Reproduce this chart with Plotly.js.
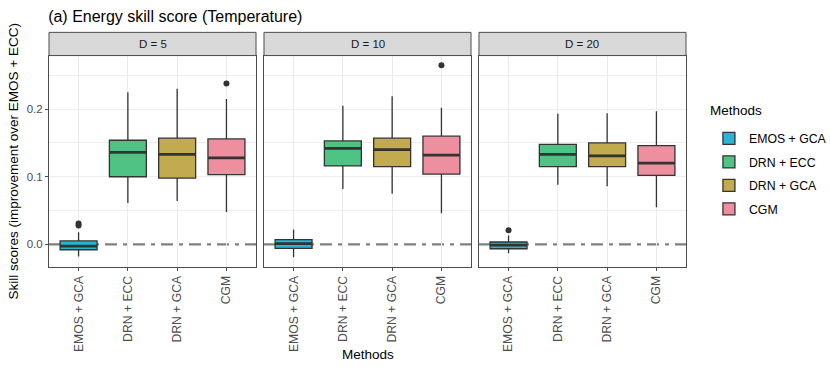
<!DOCTYPE html>
<html>
<head>
<meta charset="utf-8">
<script src="https://cdn.plot.ly/plotly-3.0.1.min.js"></script>
<style>
  html, body { margin: 0; padding: 0; background: #fff; }
  #chart { width: 830px; height: 374px; }
</style>
</head>
<body>
<div id="chart"></div>
<script>
// facets and methods
const panels = ['D = 5', 'D = 10', 'D = 20'];
const methods = ['EMOS + GCA', 'DRN + ECC', 'DRN + GCA', 'CGM'];
const fills = ['#27b5d6', '#4ec383', '#c2aa4e', '#ee8fa0'];

// box stats per method, one value per panel (D = 5, 10, 20)
const lowerFence = {
    'EMOS + GCA': [-0.018, -0.019, -0.013],
    'DRN + ECC':  [0.061, 0.082, 0.088],
    'DRN + GCA':  [0.064, 0.075, 0.086],
    'CGM':        [0.048, 0.046, 0.055]
};
const q1 = {
    'EMOS + GCA': [-0.008, -0.006, -0.0065],
    'DRN + ECC':  [0.100, 0.116, 0.115],
    'DRN + GCA':  [0.098, 0.115, 0.115],
    'CGM':        [0.103, 0.104, 0.102]
};
const median = {
    'EMOS + GCA': [-0.0025, 0.001, -0.001],
    'DRN + ECC':  [0.136, 0.142, 0.133],
    'DRN + GCA':  [0.133, 0.140, 0.131],
    'CGM':        [0.128, 0.132, 0.120]
};
const q3 = {
    'EMOS + GCA': [0.005, 0.007, 0.0035],
    'DRN + ECC':  [0.154, 0.153, 0.148],
    'DRN + GCA':  [0.157, 0.157, 0.150],
    'CGM':        [0.156, 0.160, 0.146]
};
const upperFence = {
    'EMOS + GCA': [0.018, 0.022, 0.013],
    'DRN + ECC':  [0.225, 0.205, 0.193],
    'DRN + GCA':  [0.230, 0.219, 0.194],
    'CGM':        [0.215, 0.202, 0.197]
};

// outliers: panel index, method, value
const outPanel  = [0, 0, 0, 1, 2];
const outMethod = ['EMOS + GCA', 'EMOS + GCA', 'CGM', 'CGM', 'EMOS + GCA'];
const outValue  = [0.031, 0.028, 0.238, 0.265, 0.021];

const font = 'Liberation Sans, Arial, Helvetica, sans-serif';
const axisSuffix = ['', '2', '3'];
const domains = [[0, 0.325], [0.3375, 0.6625], [0.675, 1]];

const traces = [];
panels.forEach((p, i) => {
    const xa = 'x' + axisSuffix[i];
    const ya = 'y' + axisSuffix[i];
    methods.forEach((m, j) => {
        traces.push({
            type: 'box', x: [m],
            q1: [q1[m][i]], median: [median[m][i]], q3: [q3[m][i]],
            lowerfence: [lowerFence[m][i]], upperfence: [upperFence[m][i]],
            width: 0.75, whiskerwidth: 0,
            fillcolor: fills[j], line: { color: '#333333', width: 1.3 },
            name: m, legendgroup: m, showlegend: i === 0,
            xaxis: xa, yaxis: ya, hoverinfo: 'skip'
        });
    });
    // thicker median bars, as in ggplot
    traces.push({
        type: 'scatter', mode: 'markers', x: methods,
        y: methods.map(m => median[m][i]),
        marker: { symbol: 'line-ew', size: 26.3, line: { color: '#333333', width: 2.8 } },
        showlegend: false, xaxis: xa, yaxis: ya, hoverinfo: 'skip'
    });
    const idx = outPanel.map((v, k) => v === i ? k : -1).filter(k => k >= 0);
    traces.push({
        type: 'scatter', mode: 'markers',
        x: idx.map(k => outMethod[k]), y: idx.map(k => outValue[k]),
        marker: { color: '#333333', size: 6 },
        showlegend: false, xaxis: xa, yaxis: ya, hoverinfo: 'skip'
    });
});

const layout = {
    width: 830, height: 374,
    margin: { l: 49, r: 144, t: 56, b: 107, autoexpand: false },
    paper_bgcolor: '#ffffff', plot_bgcolor: '#ffffff',
    font: { family: font, color: '#1a1a1a' },
    title: {
        text: '(a) Energy skill score (Temperature)',
        x: 0.058, xanchor: 'left', y: 0.957, yanchor: 'middle',
        font: { size: 16, color: '#000000', family: font }
    },
    legend: {
        x: 1.036, xanchor: 'left', y: 0.678, yanchor: 'top',
        font: { size: 12.3, color: '#000000' },
        tracegroupgap: 4.5, traceorder: 'grouped'
    },
    shapes: [], annotations: []
};

panels.forEach((p, i) => {
    const s = axisSuffix[i];
    layout['xaxis' + s] = {
        domain: domains[i], anchor: 'y' + s,
        type: 'category', categoryorder: 'array', categoryarray: methods,
        range: [-0.6, 3.6], fixedrange: true,
        showgrid: true, gridcolor: '#ebebeb', gridwidth: 1,
        showline: true, mirror: true, linecolor: '#4d4d4d', linewidth: 1,
        ticks: 'outside', ticklen: 3, tickcolor: '#4d4d4d',
        tickangle: -90, tickfont: { size: 12.2, color: '#4d4d4d' }
    };
    // grid drawn via minor ticks so no grid line sits on top of the zero line
    layout['yaxis' + s] = {
        anchor: 'x' + s, range: [-0.0335, 0.2786],
        matches: i === 0 ? undefined : 'y',
        tickvals: [0, 0.1, 0.2], ticktext: ['0.0', '0.1', '0.2'],
        showticklabels: i === 0,
        zeroline: false, showgrid: false,
        minor: { tickvals: [-0.05, 0.05, 0.1, 0.15, 0.2, 0.25], showgrid: true, gridcolor: '#ececec', gridwidth: 0.9 },
        showline: true, mirror: true, linecolor: '#4d4d4d', linewidth: 1,
        ticks: i === 0 ? 'outside' : '', ticklen: 3, tickcolor: '#4d4d4d',
        tickfont: { size: 11.5, color: '#4d4d4d' }
    };
    // reference line at zero
    layout.shapes.push({
        type: 'line', xref: 'x' + s + ' domain', x0: 0, x1: 1,
        yref: 'y' + s, y0: 0, y1: 0, layer: 'below',
        line: { color: '#808080', width: 2.4, dash: '12px,6px,4px,6px' }
    });
    // facet strip
    layout.shapes.push({
        type: 'rect', xref: 'x' + s + ' domain', x0: 0, x1: 1,
        yref: 'paper', y0: 1.002, y1: 1.112,
        fillcolor: '#d9d9d9', line: { color: '#4d4d4d', width: 1 }
    });
    layout.annotations.push({
        text: p, xref: 'x' + s + ' domain', x: 0.5, yref: 'paper', y: 1.057,
        showarrow: false, xanchor: 'center', yanchor: 'middle',
        font: { size: 11.5, color: '#1a1a1a' }
    });
});

layout.annotations.push({
    text: 'Skill scores (improvement over EMOS + ECC)',
    xref: 'paper', x: -0.055, yref: 'paper', y: 0.5, textangle: -90,
    showarrow: false, xanchor: 'center', yanchor: 'middle',
    font: { size: 13.5, color: '#000000' }
});
layout.annotations.push({
    text: 'Methods', xref: 'paper', x: 0.5, yref: 'paper', y: -0.417,
    showarrow: false, xanchor: 'center', yanchor: 'middle',
    font: { size: 13.5, color: '#000000' }
});
// legend title
layout.annotations.push({
    text: 'Methods', xref: 'paper', x: 1.035, yref: 'paper', y: (267 - 110) / 211,
    showarrow: false, xanchor: 'left', yanchor: 'middle',
    font: { size: 13.5, color: '#000000' }
});

Plotly.newPlot('chart', traces, layout, { displayModeBar: false, staticPlot: true });
</script>
</body>
</html>
